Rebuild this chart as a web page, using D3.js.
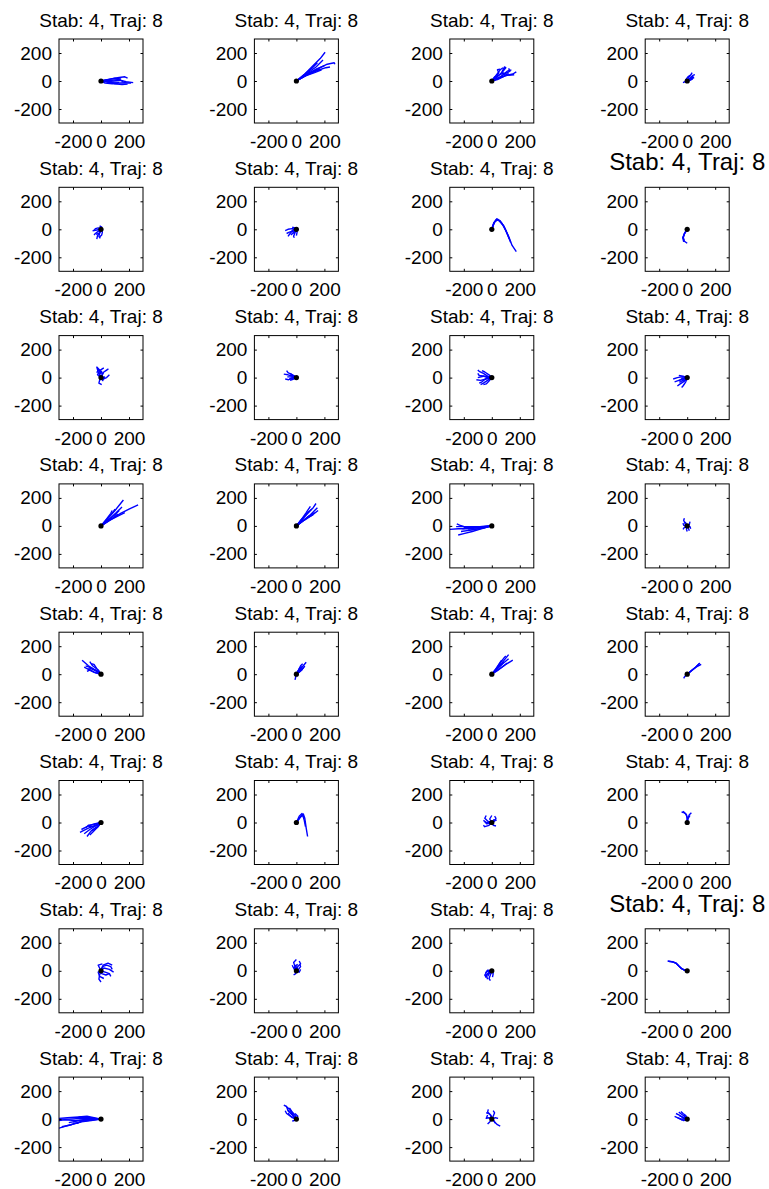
<!DOCTYPE html>
<html>
<head>
<meta charset="utf-8">
<script src="https://cdn.jsdelivr.net/npm/d3@7"></script>
<style>
  body { margin: 0; background: #fff; }
  svg text { font-family: "Liberation Sans", Arial, Helvetica, sans-serif; fill: #000; }
</style>
</head>
<body>
<div id="chart"></div>
<script>
// grid of trajectory plots, 8 rows x 4 columns
const width = 769;
const height = 1189;

const titleText = "Stab: 4, Traj: 8";
const axisDomain = [-300, 300];
const xTicks = [-200, 0, 200];
const yTicks = [-200, 0, 200];

// each row: 4 panels, each panel a list of trajectories of [x, y] points
const trajRow1 = [
  [[[0,0],[60,5],[120,10],[180,-5],[230,-12]],
   [[0,0],[50,-10],[110,-15],[170,-12],[215,-15]],
   [[0,0],[70,15],[130,25],[170,30],[190,20]],
   [[0,0],[60,-5],[100,-20],[150,-25],[190,-22]],
   [[0,0],[40,5],[90,0],[140,5],[160,-5]],
   [[0,0],[50,10],[100,20],[140,15],[120,5]],
   [[0,0],[30,-15],[80,-20],[120,-18]],
   [[0,0],[45,0],[90,-8],[130,-10]]],
  [[[0,0],[60,50],[120,110],[170,160],[205,205]],
   [[0,0],[70,50],[140,100],[190,150]],
   [[0,0],[80,45],[160,90],[220,120],[270,130],[275,120]],
   [[0,0],[70,40],[150,75],[210,95],[240,100]],
   [[0,0],[60,35],[130,60],[180,80]],
   [[0,0],[50,40],[110,90],[150,130]],
   [[0,0],[80,50],[140,85],[200,110]],
   [[0,0],[60,45],[120,70],[170,85]]],
  [[[0,0],[40,30],[80,70],[100,95],[90,100],[70,60],[100,40],[150,50],[175,65]],
   [[0,0],[50,20],[90,50],[130,70],[120,90]],
   [[0,0],[30,40],[60,80],[80,95]],
   [[0,0],[60,25],[110,40],[160,45]],
   [[0,0],[30,25],[50,60],[40,80],[60,85]],
   [[0,0],[70,35],[110,70],[140,80]],
   [[0,0],[40,10],[80,30],[120,55]],
   [[0,0],[20,30],[60,45],[90,60]]],
  [[[0,0],[20,20],[40,40],[55,45]],
   [[0,0],[25,15],[50,25]],
   [[0,0],[10,25],[30,50],[35,60]],
   [[0,0],[-15,-5],[-30,-12]],
   [[0,0],[15,10],[30,30],[45,35]],
   [[0,0],[20,5],[40,15]],
   [[0,0],[-10,10],[5,30],[20,40]],
   [[0,0],[30,20],[45,25]]]
];

const trajRow2 = [
  [[[0,0],[-20,-15],[-40,-30],[-50,-40]],
   [[0,0],[-10,-25],[-15,-50],[-5,-65]],
   [[0,0],[-30,-5],[-60,-10]],
   [[0,0],[-5,-20],[-25,-45],[-30,-70]],
   [[0,0],[-20,10],[-40,5],[-50,-10]],
   [[0,0],[10,-20],[5,-40],[-10,-55]],
   [[0,0],[-15,-30],[-35,-35]],
   [[0,0],[5,15],[-10,25]]],
  [[[0,0],[-20,-10],[-50,-20],[-70,-30]],
   [[0,0],[-10,-25],[-20,-50],[-15,-60]],
   [[0,0],[-30,5],[-60,0],[-80,-10]],
   [[0,0],[-15,-20],[-40,-40]],
   [[0,0],[5,-20],[0,-45]],
   [[0,0],[-25,-5],[-45,-30],[-60,-50]],
   [[0,0],[-10,10],[-30,15]],
   [[0,0],[-20,-25],[-30,-10]]],
  [[[0,0],[15,45],[35,75],[60,60],[90,15],[120,-50],[145,-115],[175,-160]],
   [[0,0],[18,50],[40,72],[70,45],[100,-10],[125,-70]],
   [[0,0],[12,40],[30,68],[55,62],[85,25],[110,-30],[135,-95]],
   [[0,0],[20,52],[45,70],[75,35]]],
  [[[0,0],[-20,-30],[-30,-60],[-20,-85],[0,-100]],
   [[0,0],[-18,-28],[-28,-58],[-22,-80]],
   [[0,0],[-20,-32],[-32,-60],[-25,-90]]]
];

const trajRow3 = [
  [[[0,0],[-20,40],[-30,75],[-15,60],[10,30]],
   [[0,0],[20,40],[50,60],[30,45]],
   [[0,0],[-10,-20],[-15,-40],[5,-50]],
   [[0,0],[-25,20],[-10,50],[20,70]],
   [[0,0],[15,-10],[40,0],[60,20]],
   [[0,0],[-15,30],[5,45],[-5,25]],
   [[0,0],[10,30],[-20,55],[-30,35]],
   [[0,0],[25,5],[10,-25]]],
  [[[0,0],[-30,10],[-60,20],[-90,25]],
   [[0,0],[-25,-5],[-55,-15],[-80,-10]],
   [[0,0],[-30,20],[-60,35],[-70,50]],
   [[0,0],[-20,-10],[-45,-20]],
   [[0,0],[-35,5],[-65,5]],
   [[0,0],[-20,15],[-45,30]],
   [[0,0],[-30,0],[-50,-10]],
   [[0,0],[-15,10],[-40,15]]],
  [[[0,0],[-30,10],[-60,30],[-90,45],[-100,55]],
   [[0,0],[-40,-10],[-80,-20],[-110,-15]],
   [[0,0],[-30,-20],[-60,-40],[-80,-50]],
   [[0,0],[-50,10],[-90,15],[-100,30]],
   [[0,0],[-20,20],[-50,40],[-70,50]],
   [[0,0],[-40,-5],[-70,-30],[-90,-40]],
   [[0,0],[-30,0],[-60,10],[-100,0]],
   [[0,0],[-20,-25],[-40,-45],[-60,-50]]],
  [[[0,0],[-30,-10],[-60,-20],[-90,-30]],
   [[0,0],[-20,-25],[-50,-45],[-70,-60]],
   [[0,0],[-40,5],[-70,0],[-100,-10]],
   [[0,0],[-10,-30],[-30,-60],[-40,-70]],
   [[0,0],[-30,10],[-60,15]],
   [[0,0],[-25,-15],[-55,-35]],
   [[0,0],[-15,-20],[-35,-25]],
   [[0,0],[-35,-5],[-60,-25]]]
];

const trajRow4 = [
  [[[0,0],[50,55],[100,110],[140,160],[160,185]],
   [[0,0],[70,45],[140,90],[200,120],[265,150]],
   [[0,0],[50,40],[100,80],[130,110]],
   [[0,0],[60,50],[110,95],[150,135]],
   [[0,0],[40,45],[80,90],[100,120]],
   [[0,0],[60,40],[120,70],[170,95]],
   [[0,0],[50,35],[90,60],[120,85]],
   [[0,0],[40,50],[70,90],[80,110]]],
  [[[0,0],[40,45],[80,90],[120,130],[140,160]],
   [[0,0],[50,40],[100,80],[150,130]],
   [[0,0],[30,40],[70,80],[110,120]],
   [[0,0],[45,35],[90,70],[130,95]],
   [[0,0],[35,45],[70,95],[100,140]],
   [[0,0],[55,40],[110,75],[155,110]],
   [[0,0],[40,30],[80,60],[120,80]],
   [[0,0],[30,35],[60,70],[90,105]]],
  [[[0,0],[-80,-10],[-160,-20],[-240,-20],[-300,-25]],
   [[0,0],[-70,-20],[-140,-40],[-200,-55],[-240,-65]],
   [[0,0],[-80,-5],[-170,-5],[-255,-5]],
   [[0,0],[-60,-10],[-130,-15],[-200,-10]],
   [[0,0],[-70,-15],[-150,-30],[-220,-40]],
   [[0,0],[-90,-5],[-180,-10],[-230,5],[-250,15]],
   [[0,0],[-60,-15],[-120,-25],[-170,-30]],
   [[0,0],[-80,-8],[-160,-12],[-210,-20]]],
  [[[0,0],[-15,15],[-25,40],[-20,55]],
   [[0,0],[10,-20],[15,-35]],
   [[0,0],[-20,-10],[-30,-25]],
   [[0,0],[15,10],[20,30]],
   [[0,0],[-10,20],[-20,30]],
   [[0,0],[20,-5],[25,-20]],
   [[0,0],[-5,-25],[0,-40]],
   [[0,0],[-25,5],[-30,20]]]
];

const trajRow5 = [
  [[[0,0],[-40,30],[-90,60],[-135,100]],
   [[0,0],[-30,20],[-70,45],[-110,60]],
   [[0,0],[-50,15],[-100,40],[-120,50]],
   [[0,0],[-20,30],[-60,60],[-80,90]],
   [[0,0],[-40,10],[-80,30],[-100,20]],
   [[0,0],[-30,40],[-50,70],[-70,75]],
   [[0,0],[-20,20],[-50,30]],
   [[0,0],[-35,25],[-75,40],[-95,35]]],
  [[[0,0],[20,25],[40,50],[70,85]],
   [[0,0],[25,20],[50,45],[60,60]],
   [[0,0],[15,30],[30,60],[45,75]],
   [[0,0],[20,15],[45,35]],
   [[0,0],[-5,-20],[-10,-40]],
   [[0,0],[30,30],[55,50]],
   [[0,0],[10,20],[25,45],[40,55]],
   [[0,0],[20,35],[35,50]]],
  [[[0,0],[40,40],[80,90],[120,140]],
   [[0,0],[50,35],[100,70],[150,100]],
   [[0,0],[30,40],[60,80],[90,120],[100,130]],
   [[0,0],[45,45],[90,85],[120,110]],
   [[0,0],[25,30],[50,70],[70,100]],
   [[0,0],[40,25],[80,55],[110,80]],
   [[0,0],[35,40],[70,70],[85,90]],
   [[0,0],[20,20],[50,55],[60,80]]],
  [[[0,0],[30,25],[60,50],[90,80]],
   [[0,0],[25,20],[55,45],[85,75]],
   [[0,0],[-10,-10],[-20,-20],[-25,-30]],
   [[0,0],[35,30],[70,55],[100,70]]]
];

const trajRow6 = [
  [[[0,0],[-40,-20],[-90,-40],[-130,-60],[-150,-70]],
   [[0,0],[-30,-30],[-70,-60],[-100,-100]],
   [[0,0],[-50,-10],[-100,-30],[-140,-50]],
   [[0,0],[-30,-40],[-60,-70],[-80,-90]],
   [[0,0],[-40,-25],[-80,-50],[-120,-80]],
   [[0,0],[-20,-30],[-50,-50],[-70,-60]],
   [[0,0],[-50,-15],[-90,-20],[-110,-40]],
   [[0,0],[-30,-20],[-60,-30],[-90,-25]]],
  [[[0,0],[30,40],[50,60],[60,30],[70,-40],[80,-100]],
   [[0,0],[25,35],[45,55],[55,20],[65,-30]],
   [[0,0],[20,45],[40,65],[50,40]]],
  [[[0,0],[-30,10],[-50,30],[-40,50]],
   [[0,0],[-20,-20],[-50,-30],[-60,-20]],
   [[0,0],[20,10],[30,30],[20,45]],
   [[0,0],[-40,0],[-60,15]],
   [[0,0],[10,-20],[30,-25]],
   [[0,0],[-15,25],[0,50]],
   [[0,0],[-35,-10],[-50,5]],
   [[0,0],[15,20],[35,15]]],
  [[[0,0],[0,30],[-5,55],[-20,70],[-40,75]],
   [[0,0],[5,30],[15,55],[30,70]],
   [[0,0],[0,35],[-10,60],[-30,80]],
   [[0,0],[5,25],[20,50]]]
];

const trajRow7 = [
  [[[0,0],[10,30],[40,40],[70,30],[80,10]],
   [[0,0],[-10,-30],[-15,-60],[0,-80]],
   [[0,0],[20,20],[60,10],[90,-10]],
   [[0,0],[-10,20],[-20,40],[10,50]],
   [[0,0],[30,-10],[60,-20],[70,-40]],
   [[0,0],[-20,-10],[-10,-40],[20,-55]],
   [[0,0],[15,40],[50,55],[80,40]],
   [[0,0],[5,-20],[35,-30],[60,-20]]],
  [[[0,0],[-10,30],[-20,60],[0,80]],
   [[0,0],[10,30],[30,50],[20,70]],
   [[0,0],[-20,20],[-30,40]],
   [[0,0],[15,10],[30,30],[25,45]],
   [[0,0],[-5,-20],[-20,-30]],
   [[0,0],[20,-10],[30,10]],
   [[0,0],[-15,10],[-10,35],[10,45]],
   [[0,0],[5,20],[-10,40]]],
  [[[0,0],[-20,-10],[-40,-30],[-30,-60]],
   [[0,0],[-30,5],[-45,-15]],
   [[0,0],[-10,-30],[-20,-55],[-10,-70]],
   [[0,0],[-25,-20],[-50,-35]],
   [[0,0],[10,-20],[5,-45]],
   [[0,0],[-35,-5],[-50,-30],[-40,-50]],
   [[0,0],[-15,-15],[-30,-40]],
   [[0,0],[5,-10],[-20,-20]]],
  [[[0,0],[-20,5],[-40,15],[-60,35],[-80,55],[-110,65],[-140,70]],
   [[0,0],[-22,6],[-42,17],[-62,37],[-82,56],[-112,67]],
   [[0,0],[-18,4],[-38,14],[-58,33],[-78,53],[-105,64],[-135,68]]]
];

const trajRow8 = [
  [[[0,0],[-70,5],[-150,5],[-230,0],[-300,0]],
   [[0,0],[-60,-5],[-130,-15],[-200,-35],[-300,-65]],
   [[0,0],[-80,10],[-160,15],[-240,10],[-300,5]],
   [[0,0],[-70,-10],[-140,-20],[-210,-40],[-280,-55]],
   [[0,0],[-90,0],[-180,-10],[-260,-5],[-300,-10]],
   [[0,0],[-60,5],[-120,-5],[-170,-30],[-200,-30]],
   [[0,0],[-80,-5],[-150,-10],[-230,-25]],
   [[0,0],[-50,10],[-100,20],[-160,15]]],
  [[[0,0],[-30,30],[-60,60],[-70,90],[-90,100]],
   [[0,0],[-20,20],[-40,50],[-60,65]],
   [[0,0],[-40,20],[-70,40],[-80,60]],
   [[0,0],[-10,30],[-30,50],[-50,80]],
   [[0,0],[-30,10],[-50,30],[-60,45]],
   [[0,0],[-15,-10],[-30,-15]],
   [[0,0],[-25,35],[-45,70],[-70,85]],
   [[0,0],[10,20],[-10,40]]],
  [[[0,0],[-10,30],[-30,50],[-25,70]],
   [[0,0],[20,-20],[40,-40],[60,-50]],
   [[0,0],[-20,10],[-40,5],[-30,30]],
   [[0,0],[10,20],[20,45],[10,60]],
   [[0,0],[-15,-20],[-30,-35]],
   [[0,0],[25,10],[45,5]],
   [[0,0],[-5,25],[-20,40],[-40,45]],
   [[0,0],[15,-10],[25,-30]]],
  [[[0,0],[-30,10],[-60,30],[-80,40]],
   [[0,0],[-20,20],[-40,35],[-60,50]],
   [[0,0],[-40,0],[-70,10],[-90,20]],
   [[0,0],[-25,-10],[-50,0],[-70,10]],
   [[0,0],[-10,25],[-30,40],[-45,55]],
   [[0,0],[-35,15],[-55,25]],
   [[0,0],[-20,5],[-45,-5]],
   [[0,0],[-15,15],[-25,30]]]
];

const allRows = [trajRow1, trajRow2, trajRow3, trajRow4, trajRow5, trajRow6, trajRow7, trajRow8];

// panels whose title is drawn larger (row, col)
const bigTitles = [[1, 3], [6, 3]];

// layout
const panelSize = 84;
const firstLeft = 59;
const firstTop = 39;
const colStep = 195.4;
const rowStep = 148.3;

var svg = d3.select("#chart")
  .append("svg")
  .attr("width", width)
  .attr("height", height);

var x = d3.scaleLinear().domain(axisDomain).range([0, panelSize]);
var y = d3.scaleLinear().domain(axisDomain).range([panelSize, 0]);

// plain hyphen for negative labels, like the original
var tickFormat = function(d) { return String(d); };

var line = d3.line()
  .x(function(p) { return x(p[0]); })
  .y(function(p) { return y(p[1]); });

allRows.forEach(function(row, r) {
  row.forEach(function(panel, c) {
    var left = firstLeft + c * colStep;
    var top = firstTop + r * rowStep;
    var g = svg.append("g").attr("transform", "translate(" + left + "," + top + ")");
    var clipId = "clip-" + r + "-" + c;

    g.append("clipPath").attr("id", clipId)
      .append("rect")
      .attr("width", panelSize)
      .attr("height", panelSize);

    // trajectories
    g.append("g")
      .attr("clip-path", "url(#" + clipId + ")")
      .selectAll("path")
      .data(panel)
      .enter()
      .append("path")
      .attr("d", line)
      .attr("fill", "none")
      .attr("stroke", "#0000ff")
      .attr("stroke-width", 1.4)
      .attr("stroke-linejoin", "round");

    // start point
    g.append("circle")
      .attr("cx", x(0))
      .attr("cy", y(0))
      .attr("r", 2.6)
      .attr("fill", "#000");

    // axes with inward ticks
    var bottom = g.append("g").attr("transform", "translate(0," + panelSize + ")")
      .call(d3.axisBottom(x).tickValues(xTicks).tickFormat(tickFormat)
        .tickSizeInner(-2.5).tickSizeOuter(0).tickPadding(11.5));
    var leftAxis = g.append("g")
      .call(d3.axisLeft(y).tickValues(yTicks).tickFormat(tickFormat)
        .tickSizeInner(-2.5).tickSizeOuter(0).tickPadding(7));
    g.append("g")
      .call(d3.axisTop(x).tickValues(xTicks).tickSizeInner(-2.5).tickSizeOuter(0).tickFormat(""));
    g.append("g").attr("transform", "translate(" + panelSize + ",0)")
      .call(d3.axisRight(y).tickValues(yTicks).tickSizeInner(-2.5).tickSizeOuter(0).tickFormat(""));

    g.selectAll(".domain").remove();
    g.selectAll(".tick line").attr("stroke", "#000");
    bottom.selectAll("text").style("font-size", "19px").attr("fill", "#000");
    leftAxis.selectAll("text").style("font-size", "19px").attr("fill", "#000");

    // box
    g.append("rect")
      .attr("width", panelSize)
      .attr("height", panelSize)
      .attr("fill", "none")
      .attr("stroke", "#000")
      .attr("stroke-width", 1);

    var isBig = bigTitles.some(function(b) { return b[0] == r && b[1] == c; });
    g.append("text")
      .attr("x", panelSize / 2)
      .attr("y", isBig ? -17 : -12.5)
      .attr("text-anchor", "middle")
      .style("font-size", isBig ? "24px" : "19px")
      .text(titleText);
  });
});
</script>
</body>
</html>
